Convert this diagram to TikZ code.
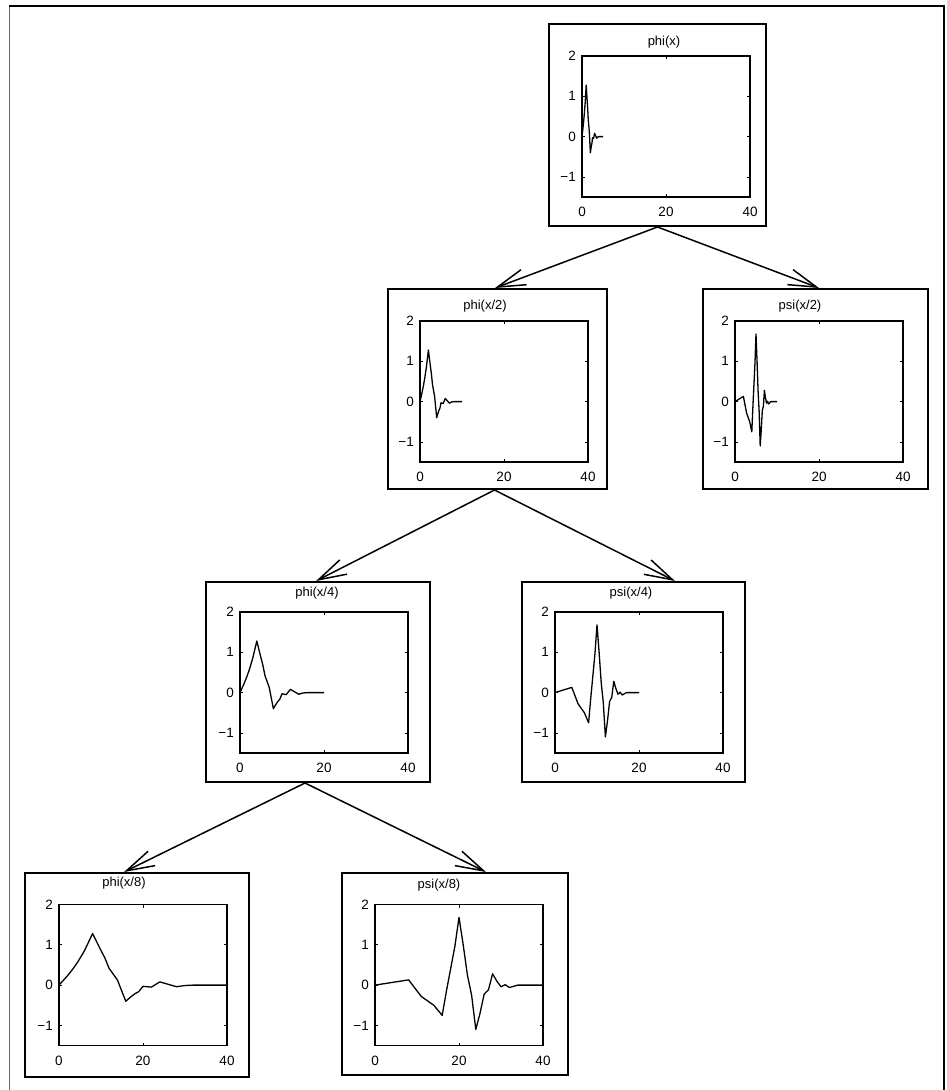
\documentclass[tikz,border=0pt]{standalone}
\usepackage{fontspec}
\setmainfont{Liberation Sans}
\usetikzlibrary{arrows.meta}
\tikzset{
  wbox/.style={draw, line width=2pt, inner sep=0pt},
  wvaxis/.style={line width=1.6pt},
  wvtickmark/.style={line width=0.8pt},
  wvcurve/.style={line width=1.3pt, line join=round},
  wvtick/.style={font=\fontsize{13.5}{15}\selectfont, inner sep=0pt},
  wvtitle/.style={font=\fontsize{13}{15}\selectfont, inner sep=0pt},
  wvarrow/.style={line width=1.5pt, -{Straight Barb[length=28pt,width=16pt]}},
}
\newcommand\phicurve{\draw[wvcurve] (0,0) -- (2,0.23) -- (3.3,0.40) -- (4.5,0.58) -- (6,0.84) -- (8,1.28) -- (9.7,0.92) -- (10.9,0.68) -- (11.9,0.42) -- (13.9,0.13) -- (15.9,-0.40) -- (17,-0.30) -- (18,-0.22) -- (19,-0.16) -- (20,-0.03) -- (21,-0.04) -- (22,-0.05) -- (24,0.08) -- (26,0.02) -- (28,-0.04) -- (30,-0.01) -- (32,0) -- (40,0);}
\newcommand\psicurve{\draw[wvcurve] (0,0) -- (8,0.13) -- (11,-0.28) -- (14,-0.5) -- (16,-0.75) -- (17,-0.15) -- (18,0.4) -- (19,0.95) -- (20,1.68) -- (21,1.0) -- (22,0.25) -- (23,-0.25) -- (24,-1.1) -- (25,-0.7) -- (26,-0.22) -- (27,-0.12) -- (28,0.28) -- (29,0.1) -- (30,-0.04) -- (31,0.01) -- (32,-0.06) -- (34,0.0) -- (40,0);}
\newcommand\wvplot[8]{%
  \draw[wvaxis] (#2,#3) rectangle ++(168,141);
  \foreach \yy in {40.3,80.6,120.9} {
    \draw[wvtickmark] (#2,#3+\yy) -- ++(3,0);
    \draw[wvtickmark] (#2+168,#3+\yy) -- ++(-3,0);
  }
  \draw[wvtickmark] (#2+84,#3) -- ++(0,3);
  \draw[wvtickmark] (#2+84,#3+141) -- ++(0,-3);
  \node[wvtick, anchor=east] (#1-y2) at (#2-6,#3) {2};
  \node[wvtick, anchor=east] (#1-y1) at (#2-6,#3+40.3) {1};
  \node[wvtick, anchor=east] (#1-y0) at (#2-6,#3+80.6) {0};
  \node[wvtick, anchor=east] (#1-ym) at (#2-6,#3+120.9) {−1};
  \node[wvtick] (#1-x0) at (#2,#3+156) {0};
  \node[wvtick] (#1-x20) at (#2+84,#3+156) {20};
  \node[wvtick] (#1-x40) at (#2+168,#3+156) {40};
  \node[wvtitle] (#1-t) at (#4,#5) {#6};
  \begin{scope}[shift={(#2,#3+80.6)}, x=#7pt, y=40.3pt]
    #8
  \end{scope}
}
\begin{document}
\begin{tikzpicture}[x=1pt,y=-1pt]
\useasboundingbox (0,0) rectangle (946,1090);
% outer border
\draw[line width=1pt, black!60] (9,1090) -- (9,6);
\draw[line width=1.2pt] (9,6) -- (944,6) -- (944,1090);
% frames
\node[wbox, minimum width=217pt, minimum height=202pt] (b1) at (657.5,125) {};
\node[wbox, minimum width=219pt, minimum height=200pt] (b2) at (497.5,389) {};
\node[wbox, minimum width=225pt, minimum height=200pt] (b3) at (815.5,389) {};
\node[wbox, minimum width=224pt, minimum height=200pt] (b4) at (318,682) {};
\node[wbox, minimum width=223pt, minimum height=200pt] (b5) at (633.5,682) {};
\node[wbox, minimum width=224pt, minimum height=204pt] (b6) at (137,975) {};
\node[wbox, minimum width=226pt, minimum height=202pt] (b7) at (455,974) {};
% plots
\wvplot{p1}{582}{56}{664}{41.7}{phi(x)}{0.525}{\phicurve}
\wvplot{p2}{420}{321}{485}{306.3}{phi(x/2)}{1.05}{\phicurve}
\wvplot{p3}{735}{321}{800}{306.3}{psi(x/2)}{1.05}{\psicurve}
\wvplot{p4}{240}{612}{317}{593}{phi(x/4)}{2.1}{\phicurve}
\wvplot{p5}{555}{612}{631}{593}{psi(x/4)}{2.1}{\psicurve}
\wvplot{p6}{59}{904.5}{124}{883.5}{phi(x/8)}{4.2}{\phicurve}
\wvplot{p7}{375}{904.5}{439}{885}{psi(x/8)}{4.2}{\psicurve}
% arrows
\draw[wvarrow] (b1.south) -- ([xshift=-2.5pt]b2.north);
\draw[wvarrow] (b1.south) -- ([xshift=3.5pt]b3.north);
\draw[wvarrow] ([xshift=-3pt]b2.south) -- ([xshift=-2pt]b4.north);
\draw[wvarrow] ([xshift=-3pt]b2.south) -- ([xshift=41.5pt]b5.north);
\draw[wvarrow] ([xshift=-13pt]b4.south) -- ([xshift=-13pt]b6.north);
\draw[wvarrow] ([xshift=-13pt]b4.south) -- ([xshift=31pt]b7.north);
\end{tikzpicture}
\end{document}
